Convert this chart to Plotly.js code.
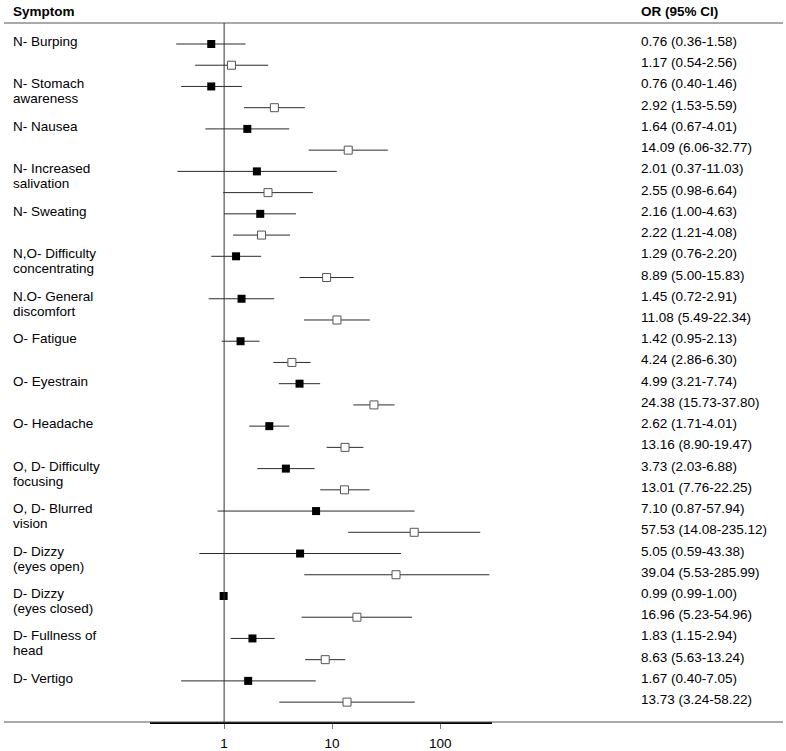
<!DOCTYPE html>
<html>
<head>
<meta charset="utf-8">
<script src="https://cdn.plot.ly/plotly-3.0.1.min.js"></script>
<style>html,body{margin:0;padding:0;background:#fff;}#chart{width:786px;height:751px;}</style>
</head>
<body>
<div id="chart"></div>
<script>
// ---- data ----
var symptoms = ["N- Burping", "N- Stomach<br>awareness", "N- Nausea", "N- Increased<br>salivation",
  "N- Sweating", "N,O- Difficulty<br>concentrating", "N.O- General<br>discomfort", "O- Fatigue",
  "O- Eyestrain", "O- Headache", "O, D- Difficulty<br>focusing", "O, D- Blurred<br>vision",
  "D- Dizzy<br>(eyes open)", "D- Dizzy<br>(eyes closed)", "D- Fullness of<br>head", "D- Vertigo"];
// first row of each symptom (filled squares)
var or1 = [0.76, 0.76, 1.64, 2.01, 2.16, 1.29, 1.45, 1.42, 4.99, 2.62, 3.73, 7.10, 5.05, 0.99, 1.83, 1.67];
var lo1 = [0.36, 0.40, 0.67, 0.37, 1.00, 0.76, 0.72, 0.95, 3.21, 1.71, 2.03, 0.87, 0.59, 0.99, 1.15, 0.40];
var hi1 = [1.58, 1.46, 4.01, 11.03, 4.63, 2.20, 2.91, 2.13, 7.74, 4.01, 6.88, 57.94, 43.38, 1.00, 2.94, 7.05];
// second row of each symptom (open squares)
var or2 = [1.17, 2.92, 14.09, 2.55, 2.22, 8.89, 11.08, 4.24, 24.38, 13.16, 13.01, 57.53, 39.04, 16.96, 8.63, 13.73];
var lo2 = [0.54, 1.53, 6.06, 0.98, 1.21, 5.00, 5.49, 2.86, 15.73, 8.90, 7.76, 14.08, 5.53, 5.23, 5.63, 3.24];
var hi2 = [2.56, 5.59, 32.77, 6.64, 4.08, 15.83, 22.34, 6.30, 37.80, 19.47, 22.25, 235.12, 285.99, 54.96, 13.24, 58.22];
var tickVals = [1, 10, 100];
var tickText = ["1", "10", "100"];
var headerLeft = "Symptom";
var headerRight = "OR (95% CI)";

// ---- build ----
var FONT = "Liberation Sans, Arial, sans-serif";
var y1 = symptoms.map(function(_, i){ return 2 * i; });
var y2 = symptoms.map(function(_, i){ return 2 * i + 1; });
function plus(or, hi){ return or.map(function(v, i){ return hi[i] - v; }); }
function minus(or, lo){ return or.map(function(v, i){ return v - lo[i]; }); }

var traceFilled = {
  type: "scatter", mode: "markers", x: or1, y: y1, hoverinfo: "skip",
  marker: {symbol: "square", size: 8, color: "#000", line: {width: 0}},
  error_x: {type: "data", symmetric: false, array: plus(or1, hi1), arrayminus: minus(or1, lo1),
    width: 0, thickness: 1, color: "#2a2a2a"}
};
var traceOpen = {
  type: "scatter", mode: "markers", x: or2, y: y2, hoverinfo: "skip",
  marker: {symbol: "square", size: 8, color: "#fff", line: {width: 1, color: "#555"}},
  error_x: {type: "data", symmetric: false, array: plus(or2, hi2), arrayminus: minus(or2, lo2),
    width: 0, thickness: 1, color: "#2a2a2a"}
};

var L = 150, R = 492, W = 786;
function px2paper(p){ return (p - L) / (R - L); }
var TEXT_UP = 2.5;

var annotations = [];
symptoms.forEach(function(s, i){
  s.split("<br>").forEach(function(line, k){
    annotations.push({xref: "paper", yref: "y", x: px2paper(11), y: 2 * i, xanchor: "left", yanchor: "middle",
      text: line, showarrow: false, yshift: TEXT_UP - 15 * k, font: {family: FONT, size: 13.5, color: "#000"}});
  });
});
function fmt(v){ return v.toFixed(2); }
function addRight(or, lo, hi, ys){
  or.forEach(function(v, i){
    annotations.push({xref: "paper", yref: "y", x: px2paper(639), y: ys[i], xanchor: "left", yanchor: "middle",
      text: fmt(v) + " (" + fmt(lo[i]) + "-" + fmt(hi[i]) + ")", showarrow: false, yshift: TEXT_UP,
      font: {family: FONT, size: 13.5, color: "#000"}});
  });
}
addRight(or1, lo1, hi1, y1);
addRight(or2, lo2, hi2, y2);
annotations.push({xref: "paper", yref: "paper", x: px2paper(11), y: 1, yshift: 12, xanchor: "left", yanchor: "middle",
  text: "<b>" + headerLeft + "</b>", showarrow: false, font: {family: FONT, size: 13.5, color: "#000"}});
annotations.push({xref: "paper", yref: "paper", x: px2paper(639), y: 1, yshift: 12, xanchor: "left", yanchor: "middle",
  text: "<b>" + headerRight + "</b>", showarrow: false, font: {family: FONT, size: 13.5, color: "#000"}});

var shapes = [
  {type: "line", xref: "paper", yref: "paper", x0: px2paper(4), x1: px2paper(783), y0: 1, y1: 1,
    line: {color: "#555", width: 1}},
  {type: "line", xref: "paper", yref: "paper", x0: px2paper(4), x1: px2paper(783), y0: 0, y1: 0,
    line: {color: "#555", width: 1}},
  {type: "line", xref: "x", yref: "paper", x0: 1, x1: 1, y0: 0, y1: 1, line: {color: "#333", width: 1}}
];

var layout = {
  width: 786, height: 751,
  margin: {l: L, r: W - R, t: 23, b: 29, pad: 0},
  paper_bgcolor: "#fff", plot_bgcolor: "rgba(0,0,0,0)",
  showlegend: false,
  font: {family: FONT, size: 13.5, color: "#000"},
  xaxis: {type: "log", range: [Math.log10(0.206), Math.log10(302)], showgrid: false, zeroline: false,
    showline: true, linecolor: "#000", linewidth: 2, ticks: "outside", ticklen: 5, tickwidth: 1, tickcolor: "#777",
    ticklabelstandoff: 3,
    tickvals: tickVals, ticktext: tickText, tickfont: {family: FONT, size: 13.5, color: "#000"}, fixedrange: true},
  yaxis: {range: [31.936, -0.989], showgrid: false, zeroline: false, showline: false, showticklabels: false,
    ticks: "", fixedrange: true},
  annotations: annotations,
  shapes: shapes
};
Plotly.newPlot("chart", [traceFilled, traceOpen], layout, {displayModeBar: false, staticPlot: true});
</script>
</body>
</html>
